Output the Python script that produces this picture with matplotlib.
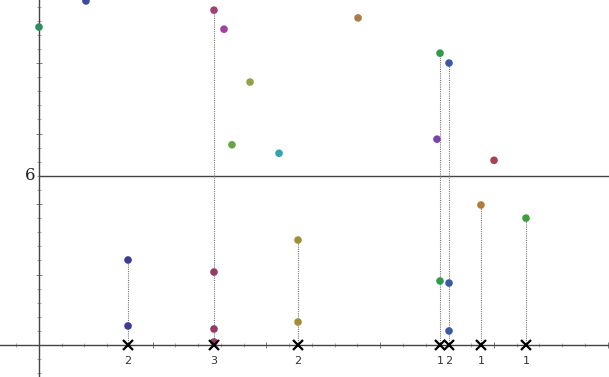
import numpy as np
import matplotlib
matplotlib.use("Agg")
import matplotlib.pyplot as plt
from matplotlib.ticker import MultipleLocator, NullFormatter

# loose points (not on a stem)
free_x = [0.0, 0.413, 1.627, 1.856, 1.697, 2.111, 2.806, 3.50, 4.002]
free_y = [4.51, 4.88, 4.48, 3.73, 2.84, 2.72, 4.64, 2.92, 2.62]
free_c = ["#2f8f5a", "#3a4ca0", "#a040a0", "#94a046", "#6aa63e",
          "#33a3b3", "#a87c44", "#7a44b0", "#a8404e"]

# points sitting on the dotted stems
stem_pt_x = [0.783, 0.783, 1.539, 1.539, 1.539, 1.539, 2.278, 2.278,
             3.527, 3.527, 3.606, 3.606, 3.606, 3.887, 4.283]
stem_pt_y = [1.206, 0.27, 4.75, 1.035, 0.227, 0.043, 1.489, 0.326,
             4.14, 0.908, 4.00, 0.879, 0.199, 1.986, 1.80]
stem_pt_c = ["#3c3c98", "#3c3c98", "#a3407a", "#943a66", "#943a66", "#943a66",
             "#a08f36", "#a08f36", "#2f9a4a", "#2f9a4a", "#3a5aa6", "#3a5aa6",
             "#3a5aa6", "#b07c36", "#3a9e3a"]

stem_x = [0.783, 1.539, 2.278, 3.527, 3.606, 3.887, 4.283]
stem_labels = ["2", "3", "2", "1", "2", "1", "1"]

line_y = 2.40
line_label = "6"

fig = plt.figure(figsize=(6.09, 3.77), dpi=100)
ax = fig.add_axes([0, 0, 1, 1])
ax.set_xlim(-0.343, 5.013)
ax.set_ylim(-0.454, 4.894)

for s in ["top", "right"]:
    ax.spines[s].set_visible(False)
ax.spines["left"].set_position(("data", 0))
ax.spines["bottom"].set_position(("data", 0))
for s in ["left", "bottom"]:
    ax.spines[s].set_color("#444444")
    ax.spines[s].set_linewidth(1.0)

ax.xaxis.set_major_locator(MultipleLocator(1))
ax.xaxis.set_minor_locator(MultipleLocator(0.2))
ax.yaxis.set_major_locator(MultipleLocator(1))
ax.yaxis.set_minor_locator(MultipleLocator(0.2))
ax.xaxis.set_major_formatter(NullFormatter())
ax.yaxis.set_major_formatter(NullFormatter())
ax.tick_params(which="major", direction="inout", length=4, width=0.6, colors="#666666")
ax.tick_params(which="minor", direction="inout", length=2.5, width=0.5, colors="#888888")

# horizontal reference line
ax.axhline(line_y, xmin=0.343 / 5.356, color="#444444", lw=1.0)
ax.text(-0.03, line_y, line_label, family="DejaVu Serif", fontsize=12,
        ha="right", va="center", color="#222222")

# dotted stems
for x in stem_x:
    top = max(y for px, y in zip(stem_pt_x, stem_pt_y) if px == x)
    ax.plot([x, x], [0, top], color="#777777", ls=(0, (1, 1)), lw=0.8, zorder=2)

ax.scatter(stem_pt_x, stem_pt_y, s=30, c=stem_pt_c, zorder=3, linewidths=0)
ax.scatter(free_x, free_y, s=30, c=free_c, zorder=3, linewidths=0)

# x markers and counts
ax.plot(stem_x, np.zeros(len(stem_x)), ls="none", marker="x", ms=7,
        mew=1.6, color="black", zorder=4)
for x, lab in zip(stem_x, stem_labels):
    ax.annotate(lab, (x, 0), xytext=(0, -8), textcoords="offset points",
                ha="center", va="top", fontsize=8, color="#333333")

fig.savefig("out.png", dpi=100)
